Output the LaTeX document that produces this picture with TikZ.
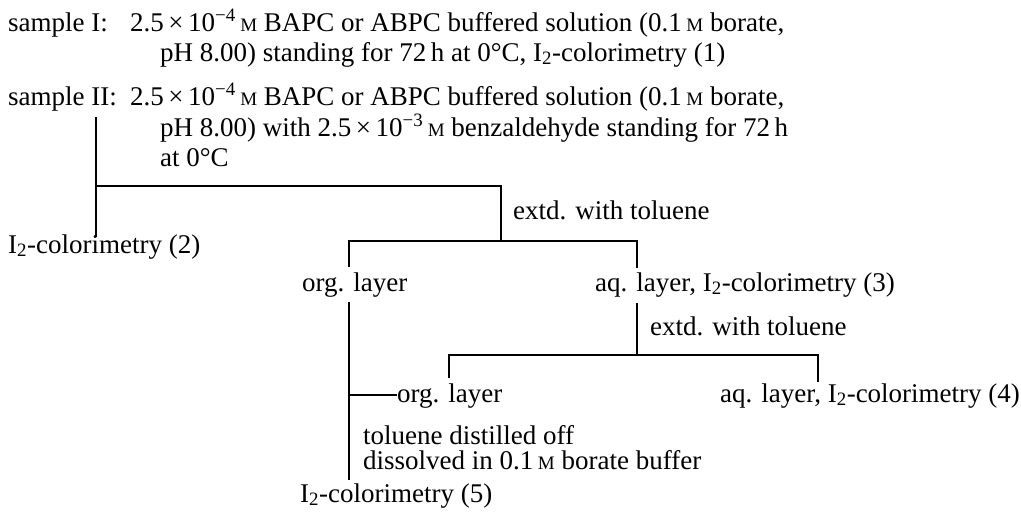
\documentclass[tikz,border=0pt]{standalone}
\usepackage{fontspec}
\setmainfont{Liberation Serif}
\newcommand\Mol{{\fontsize{19}{19}\selectfont M}}
\newcommand\Itwo{I\textsubscript{2}}
\begin{document}
\begin{tikzpicture}[x=1pt,y=-1pt,
  every node/.style={font=\fontsize{27}{32}\selectfont, inner sep=0pt, anchor=base west},
  conn/.style={line width=1.6pt}]
\useasboundingbox (0,0) rectangle (1021,512);
% texts
\node (s1) at (8,31) {sample I:};
\node (s1a) at (130,31) {2.5\,×\,10\textsuperscript{−4}\,\Mol{} BAPC or ABPC buffered solution (0.1\,\Mol{} borate,};
\node (s1b) at (160,61) {pH 8.00) standing for 72\,h at 0°C, \Itwo-colorimetry (1)};
\node (s2) at (8,105) {sample II:};
\node (s2a) at (130,105) {2.5\,×\,10\textsuperscript{−4}\,\Mol{} BAPC or ABPC buffered solution (0.1\,\Mol{} borate,};
\node (s2b) at (160,136) {pH 8.00) with 2.5\,×\,10\textsuperscript{−3}\,\Mol{} benzaldehyde standing for 72\,h};
\node (s2c) at (160,166) {at 0°C};
\node (c2) at (8,253) {\Itwo-colorimetry (2)};
\node (x1) at (513,219) {extd. with toluene};
\node (org1) at (302,291) {org. layer};
\node (aq1) at (595,291) {aq. layer, \Itwo-colorimetry (3)};
\node (x2) at (650,335) {extd. with toluene};
\node (org2) at (397,402) {org. layer};
\node (aq2) at (720,402) {aq. layer, \Itwo-colorimetry (4)};
\node (t1) at (363,444) {toluene distilled off};
\node (t2) at (363,469) {dissolved in 0.1\,\Mol{} borate buffer};
\node (c5) at (300,502) {\Itwo-colorimetry (5)};
% junction coordinates
\coordinate (v1t) at (96,117);
\coordinate (v1b) at (96,237);
\coordinate (h1l) at (96,186);
\coordinate (h1r) at (501,186);
\coordinate (h2m) at (501,241);
\coordinate (h2l) at (349,241);
\coordinate (h2r) at (637,241);
\coordinate (o1t) at (349,267);
\coordinate (a1t) at (637,268);
\coordinate (o1b) at (349,302);
\coordinate (o1e) at (349,480);
\coordinate (a1b) at (637,303);
\coordinate (h3m) at (637,355);
\coordinate (h3l) at (449,355);
\coordinate (h3r) at (818,355);
\coordinate (o2t) at (449,378);
\coordinate (a2t) at (818,382);
\coordinate (brj) at (349,395);
% connectors
\draw[conn] (v1t) -- (v1b);
\draw[conn] (h1l) -- (h1r) -- (h2m);
\draw[conn] (o1t) -- (h2l) -- (h2r) -- (a1t);
\draw[conn] (a1b) -- (h3m);
\draw[conn] (o2t) -- (h3l) -- (h3r) -- (a2t);
\draw[conn] (o1b) -- (o1e);
\draw[conn] (brj) -- (org2.west |- brj);
\end{tikzpicture}
\end{document}
